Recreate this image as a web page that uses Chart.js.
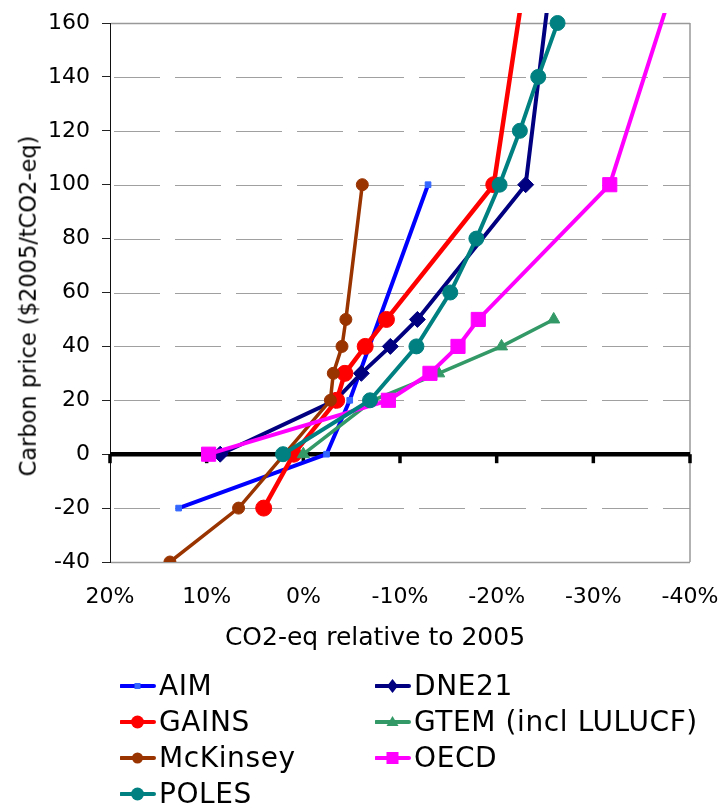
<!DOCTYPE html>
<html><head><meta charset="utf-8">
<script src="https://cdn.jsdelivr.net/npm/chart.js@4.4.1/dist/chart.umd.min.js"></script>
<style>
html,body{margin:0;padding:0;background:#fff;}
#wrap{position:relative;width:728px;height:804px;overflow:hidden;}
#c{position:absolute;left:0;top:0;}
.leg{position:absolute;font-family:"DejaVu Sans",sans-serif;font-size:28px;letter-spacing:0.6px;color:#000;display:flex;align-items:center;height:34px;white-space:nowrap;line-height:34px;}
.leg svg{margin-right:3px;flex:none;}
.ttl{position:absolute;font-family:"DejaVu Sans",sans-serif;color:#000;white-space:nowrap;line-height:1;}
</style></head><body>
<div id="wrap"><canvas id="c" width="728" height="804"></canvas><div id="legend"></div>
<div id="xt" class="ttl"></div><div id="yt" class="ttl"></div></div>
<script>
// ---- data ----
const seriesNames = ['AIM', 'DNE21', 'GAINS', 'GTEM (incl LULUCF)', 'McKinsey', 'OECD', 'POLES'];
const aimChange      = [12.9, -2.4, -4.8, -12.9];
const aimPrice       = [-20, 0, 20, 100];
const dne21Change    = [8.6, -3.3, -6.0, -9.0, -11.8, -23.0, -26.4];
const dne21Price     = [0, 20, 30, 40, 50, 100, 200];
const gainsChange    = [4.1, 1.0, -3.45, -4.3, -6.4, -8.6, -19.7, -23.9];
const gainsPrice     = [-20, 0, 20, 30, 40, 50, 100, 200];
const gtemChange     = [0.0, -7.2, -14.0, -20.5, -25.9];
const gtemPrice      = [0, 20, 30, 40, 50];
const mckinseyChange = [13.8, 6.7, -2.8, -3.1, -4.0, -4.4, -6.1];
const mckinseyPrice  = [-40, -20, 20, 30, 40, 50, 100];
const oecdChange     = [9.8, -8.8, -13.1, -16.0, -18.1, -31.7, -40.6];
const oecdPrice      = [0, 20, 30, 40, 50, 100, 200];
const polesChange    = [2.1, -6.9, -11.7, -15.2, -17.9, -20.3, -22.4, -24.3, -26.3];
const polesPrice     = [0, 20, 40, 60, 80, 100, 120, 140, 160];
const xTickValues = [-40, -30, -20, -10, 0, 10, 20];
const yTickValues = [-40, -20, 0, 20, 40, 60, 80, 100, 120, 140, 160];
const xTitle = 'CO2-eq relative to 2005';
const yTitle = 'Carbon price ($2005/tCO2-eq)';

// ---- styles ----
const styles = [
  {line:'#0000FF', fill:'#3366FF', shape:'rect',     r:4,   w:4},
  {line:'#000080', fill:'#000080', shape:'rectRot',  r:8,   w:4},
  {line:'#FF0000', fill:'#FF0000', shape:'circle',   r:8,   w:4.5},
  {line:'#339966', fill:'#339966', shape:'triangle', r:7,   w:3.5},
  {line:'#993300', fill:'#993300', shape:'circle',   r:6,   w:3.5},
  {line:'#FF00FF', fill:'#FF00FF', shape:'rect',     r:10,  w:4},
  {line:'#008080', fill:'#008080', shape:'circle',   r:7.5, w:4}
];
const pairs = [[aimChange,aimPrice],[dne21Change,dne21Price],[gainsChange,gainsPrice],[gtemChange,gtemPrice],
               [mckinseyChange,mckinseyPrice],[oecdChange,oecdPrice],[polesChange,polesPrice]];
const toPts = (xs, ys) => xs.map((x, i) => ({x: x, y: ys[i]}));

const datasets = seriesNames.map((name, i) => ({
  label: name,
  data: toPts(pairs[i][0], pairs[i][1]),
  borderColor: styles[i].line,
  backgroundColor: styles[i].fill,
  pointBackgroundColor: styles[i].fill,
  pointBorderColor: styles[i].fill,
  pointBorderWidth: 1,
  pointStyle: styles[i].shape,
  pointRadius: styles[i].r,
  pointHoverRadius: styles[i].r,
  borderWidth: styles[i].w,
  showLine: true,
  tension: 0,
  fill: false,
  order: seriesNames.length - i,
  clip: {left: 0, top: 10, right: 0, bottom: 0}
}));

const FONT = '"DejaVu Sans", sans-serif';

const framePlugin = {
  id: 'frame',
  beforeDatasetsDraw(chart) {
    const {ctx, chartArea: a, scales: {x, y}} = chart;
    ctx.save();
    yTickValues.forEach(v => {
      if (v === 0) return;
      const py = Math.round(y.getPixelForValue(v)) + 0.5;
      ctx.beginPath();
      ctx.strokeStyle = '#a0a0a0';
      ctx.lineWidth = 1.2;
      if (v === 160 || v === -40) { ctx.setLineDash([]); ctx.strokeStyle = '#999'; ctx.lineWidth = 1.5; }
      else { ctx.setLineDash([46, 15]); ctx.lineDashOffset = 58; }
      ctx.moveTo(a.left + 1, py);
      ctx.lineTo(a.right, py);
      ctx.stroke();
    });
    ctx.setLineDash([]);
    ctx.strokeStyle = '#999';
    ctx.lineWidth = 1.5;
    ctx.beginPath();
    ctx.moveTo(a.right, a.top);
    ctx.lineTo(a.right, a.bottom);
    ctx.stroke();
    const y0 = y.getPixelForValue(0);
    ctx.strokeStyle = '#000';
    ctx.lineWidth = 4.5;
    ctx.beginPath();
    ctx.moveTo(a.left, y0);
    ctx.lineTo(a.right, y0);
    ctx.stroke();
    ctx.lineWidth = 3.5;
    xTickValues.forEach(v => {
      const px = x.getPixelForValue(v);
      ctx.beginPath();
      ctx.moveTo(px, y0);
      ctx.lineTo(px, y0 + 9);
      ctx.stroke();
    });
    ctx.restore();
  }
};

new Chart(document.getElementById('c'), {
  type: 'scatter',
  data: {datasets},
  options: {
    responsive: false,
    animation: false,
    events: [],
    layout: {padding: {left: 0, top: 23, right: 38, bottom: 152}},
    plugins: {legend: {display: false}, tooltip: {enabled: false}},
    scales: {
      x: {
        type: 'linear', position: 'bottom', reverse: true, min: -40, max: 20,
        afterFit: s => { s.height = 90; s.paddingLeft = 0; s.paddingRight = 0; },
        afterBuildTicks: s => { s.ticks = xTickValues.map(v => ({value: v})); },
        ticks: {callback: v => v + '%', padding: 22, color: '#000', font: {family: FONT, size: 22}, maxRotation: 0, autoSkip: false},
        grid: {display: false, drawTicks: false},
        border: {display: false},
        title: {display: false}
      },
      y: {
        type: 'linear', position: 'left', min: -40, max: 160,
        afterFit: s => { s.width = 110; s.paddingTop = 0; s.paddingBottom = 0; },
        afterBuildTicks: s => { s.ticks = yTickValues.map(v => ({value: v})); },
        ticks: {padding: 12, color: '#000', font: {family: FONT, size: 22}, autoSkip: false},
        grid: {drawOnChartArea: false, drawTicks: true, tickLength: 8, tickColor: '#222', tickWidth: 1},
        border: {display: true, color: '#111', width: 1},
        title: {display: false}
      }
    }
  },
  plugins: [framePlugin]
});

// ---- axis titles as HTML text ----
const xt = document.getElementById('xt');
xt.textContent = xTitle;
xt.style.fontSize = '25px';
xt.style.left = '375px'; xt.style.top = '636px';
xt.style.transform = 'translate(-50%, -50%)';
const yt = document.getElementById('yt');
yt.textContent = yTitle;
yt.style.fontSize = '22.5px';
yt.style.left = '28px'; yt.style.top = '306px';
yt.style.transform = 'translate(-50%, -50%) rotate(-90deg)';

// ---- HTML legend ----
const legendPos = [
  {x: 120, y: 686}, {x: 375, y: 686},
  {x: 120, y: 722}, {x: 375, y: 722},
  {x: 120, y: 758}, {x: 375, y: 758},
  {x: 120, y: 794}
];
function markerSvg(st) {
  const c = st.fill, l = st.line;
  let m = '';
  if (st.shape === 'rect' && st.r < 6) m = `<rect x="14.5" y="8" width="6" height="6" fill="${c}"/>`;
  else if (st.shape === 'rect') m = `<rect x="11.5" y="5" width="12" height="12" fill="${c}"/>`;
  else if (st.shape === 'rectRot') m = `<polygon points="17.5,4 23,11 17.5,18 12,11" fill="${c}"/>`;
  else if (st.shape === 'triangle') m = `<polygon points="17.5,5 23.5,15 11.5,15" fill="${c}"/>`;
  else m = `<circle cx="17.5" cy="11" r="${st.r > 7 ? 6.5 : 5.5}" fill="${c}"/>`;
  return `<svg width="36" height="22" viewBox="0 0 36 22"><line x1="1" y1="11" x2="34" y2="11" stroke="${l}" stroke-width="4" stroke-linecap="round"/>${m}</svg>`;
}
const legendEl = document.getElementById('legend');
seriesNames.forEach((name, i) => {
  const d = document.createElement('div');
  d.className = 'leg';
  d.style.left = legendPos[i].x + 'px';
  d.style.top = (legendPos[i].y - 17) + 'px';
  d.innerHTML = markerSvg(styles[i]) + '<span>' + name + '</span>';
  legendEl.appendChild(d);
});
</script>
</body></html>
